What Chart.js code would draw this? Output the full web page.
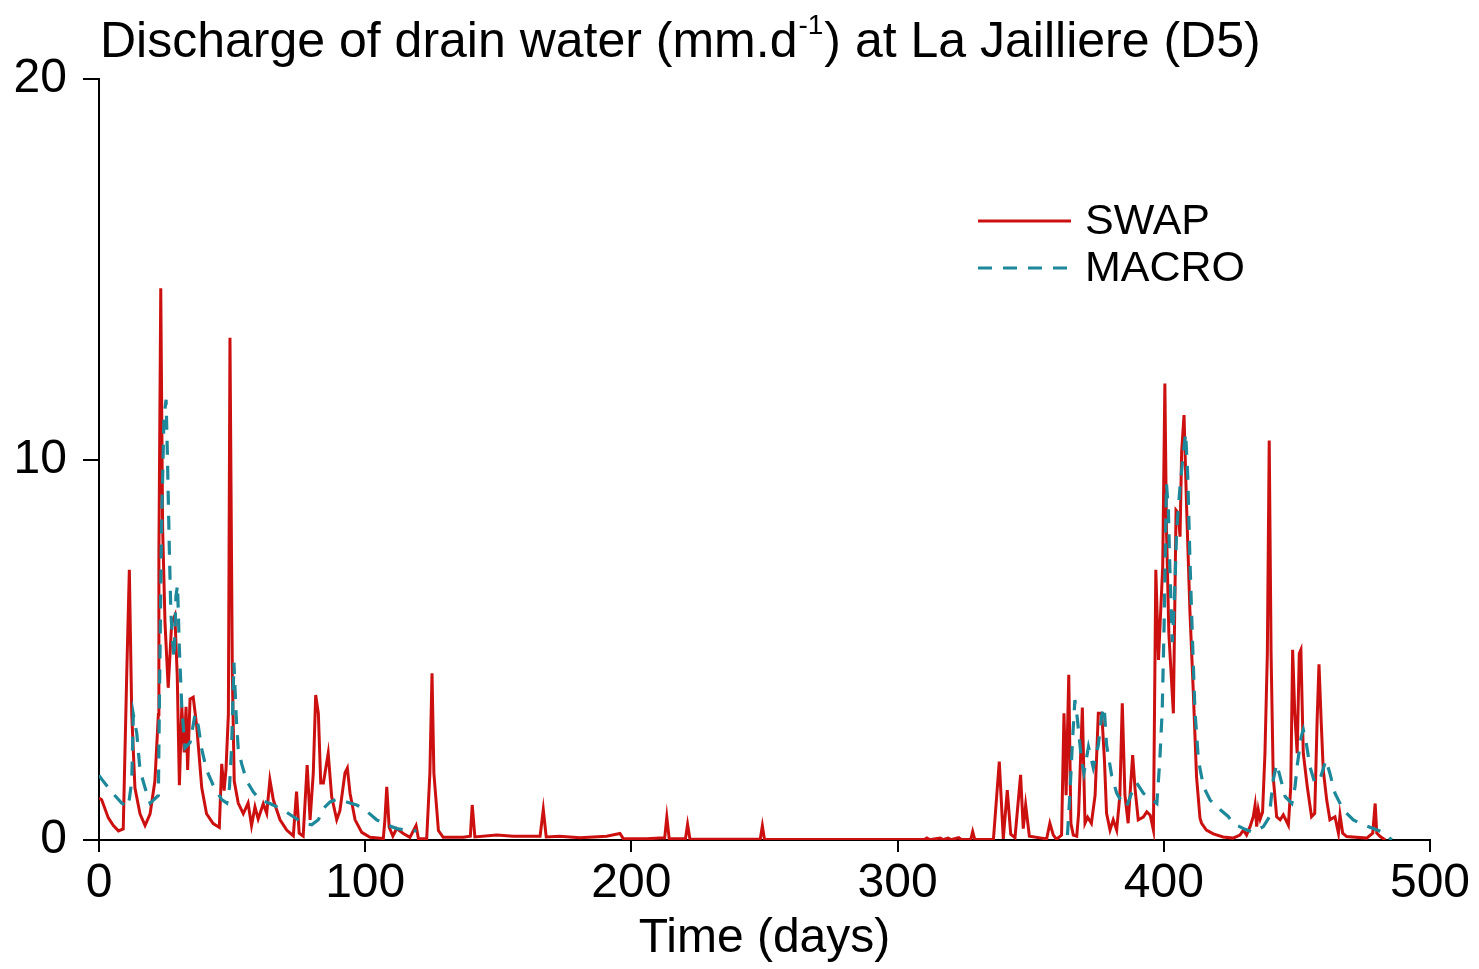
<!DOCTYPE html>
<html>
<head>
<meta charset="utf-8">
<script src="https://cdn.jsdelivr.net/npm/chart.js@4.4.1/dist/chart.umd.min.js"></script>
<style>
html,body{margin:0;padding:0;background:#fff;}
#wrap{width:1479px;height:969px;position:relative;}
</style>
</head>
<body>
<div id="wrap"><canvas id="c" width="1479" height="969"></canvas></div>
<script>
// ---- text ----
const titleMain = "Discharge of drain water (mm.d";
const titleSup = "-1";
const titleEnd = ") at La Jailliere (D5)";
const xAxisTitle = "Time (days)";
const seriesNames = ["SWAP", "MACRO"];

// ---- ticks ----
const xTickValues = [0, 100, 200, 300, 400, 500];
const yTickValues = [0, 10, 20];

// ---- SWAP series (day, mm/d) ----
const swapDays = [
0,1,3.5,5.4,7.3,9.1,10.4,11.4,12.3,13.5,
15.4,17.3,19.2,21,22.3,22.5,23.2,23.9,24.8,26,
27.3,28.5,29.4,30.2,31.1,32,32.7,33.3,34.2,35.4,
36.7,38.6,40.4,42.9,45.2,46.1,47,47.7,48.6,49.2,
50.1,50.8,52.3,54.2,56,57.3,58.6,59.8,61.7,63,
64.2,65.5,68,70.5,73,74.2,75.2,76.7,78.2,79.3,
80.5,81.4,82.4,83.3,84.3,86.1,87.4,89.3,90.5,92.4,
93.3,94.3,96.2,98.7,101.8,106.8,107.4,108.1,109,110.4,
111.8,114.3,116.8,119.1,120,123.1,124.3,125.1,125.8,127.5,
129.3,136.8,139.5,140.2,141.2,149.4,155.6,165.7,166.9,168,
173,180.7,190.7,195.7,197,205.7,210.7,212.5,213.3,214.2,
220.3,221.1,222,230.7,248.4,249.2,250,310,311,312,
316,317,319,320,323,324,327.5,328.2,329,336,
338.2,339.7,341.2,342.5,344.1,346.2,347.2,348.1,349.5,356,
357.2,358.5,359.7,361.6,362.5,363.3,364.3,365.1,366,367.3,
368,369.4,370.4,371.4,372.8,374.2,375.4,376.7,377.7,378.5,
379.8,381,382.3,383.5,384.4,385.4,386.6,388.3,389.2,390.4,
392.3,393.6,394.9,396.1,397,398,399.6,400.4,401,401.9,
403.6,404.6,405.4,406.1,406.7,407.6,408.6,409.8,411.1,412.3,
413.6,414.2,416,418.6,422.3,426,428.6,429.9,431.1,432.4,
433.6,434.3,434.9,435.5,436.2,437.1,438,438.9,439.6,440.3,
441.1,442.4,443.7,444.9,446.8,447.7,448.4,449.2,450.1,450.9,
451.5,452.4,453.9,455.5,456.7,457.6,458.3,459.1,459.9,461.2,
462.4,464.3,465.6,466.2,467.2,468.7,476.2,478.5,479.4,480,
481.3,483.2
];
const swapValues = [
1.1,1.06,0.58,0.38,0.24,0.29,4.3,7.1,3.3,1.37,
0.69,0.38,0.69,1.55,3.3,7.5,14.5,8.2,5.7,4.0,
5.7,5.9,4.3,1.44,3.5,2.3,3.5,1.84,3.7,3.75,
3.0,1.37,0.69,0.43,0.33,2.0,1.3,1.84,3.3,13.2,
4.3,1.55,0.97,0.69,0.97,0.38,0.87,0.55,0.95,0.7,
1.58,1.05,0.53,0.26,0.11,1.27,0.18,0.1,1.97,0.53,
1.76,3.81,3.33,1.5,1.5,2.28,1.14,0.53,0.77,1.76,
1.89,1.23,0.53,0.2,0.07,0.04,0.53,1.4,0.34,0.1,
0.3,0.17,0.07,0.38,0.03,0.03,1.76,4.38,1.76,0.25,
0.07,0.07,0.1,0.92,0.08,0.13,0.1,0.1,0.8,0.08,
0.1,0.06,0.1,0.17,0.03,0.03,0.05,0.05,0.6,0.03,
0.03,0.41,0.02,0.02,0.02,0.37,0.01,0.01,0.05,0.01,
0.05,0.01,0.05,0.01,0.06,0.01,0.02,0.22,0.01,0.02,
2.06,0.03,1.31,0.15,0.06,1.71,0.3,0.92,0.1,0.03,
0.44,0.13,0.02,0.13,3.33,1.18,4.34,0.44,0.13,0.1,
0.7,3.48,0.44,0.6,0.44,1.18,3.33,3.33,2.1,0.7,
0.26,0.53,0.26,1.18,3.59,1.18,0.44,2.23,1.35,0.53,
0.6,0.74,0.65,0.26,7.1,4.73,7.2,12.0,8.2,5.43,
3.33,8.67,8.6,7.97,10.2,11.17,8.67,6.04,3.86,1.66,
0.57,0.44,0.26,0.16,0.08,0.05,0.13,0.26,0.13,0.35,
0.61,0.92,0.35,0.79,0.55,0.73,2.28,4.9,10.5,4.9,
1.66,0.61,0.53,0.66,0.39,1.4,5.0,3.33,2.28,4.9,
5.0,2.28,1.4,0.61,0.7,3.15,4.62,3.15,1.84,1.05,
0.53,0.61,0.18,0.66,0.18,0.09,0.05,0.18,0.96,0.18,
0.09,0.0
];

// ---- MACRO series (day, mm/d); null = no output ----
const macroDays = [
0,1,4.8,8.5,11,12.3,12.9,14.2,15.4,17.3,
19.2,22.3,22.8,23.5,24.4,25.2,25.7,26.4,27,27.6,
28.2,28.9,29.5,30.2,31.1,32.3,34.2,36.1,37.3,38.5,
40.4,42.9,46.1,48,49,49.8,50.7,51.5,52.3,53.6,
55.5,58,60.5,64.2,69.2,73,76.7,79.9,82.4,84.3,
86.8,89.3,93,96.8,100,104.3,108,111.8,115.5,119.3,
120,363,363.8,364.7,365.7,366.6,367.5,369.1,370,371.7,
373.5,375.4,376.7,377.6,378.5,380.4,382.3,384.2,386,387.9,
389.8,392.3,394.9,397.4,398.5,399.4,400.1,401,401.7,402.3,
403.2,404,404.8,406.1,407.4,408.2,409,409.8,410.8,411.7,
413,414.9,417.4,421.1,424.2,426,430.5,433.6,437.4,439.6,
441.1,442.4,443.7,445.6,448.1,449.3,450.2,451.6,452.4,453.4,
454.9,456.7,458.6,460.9,462.4,464.3,467.4,471.2,474.9,478.7,
482.4,484.3,485.6
];
const macroValues = [
1.7,1.6,1.26,0.97,0.87,1.55,3.3,2.8,1.84,1.37,
0.97,1.17,4.3,8.2,11.1,11.57,10.1,7.7,5.97,5.26,
4.77,6.4,6.7,5.0,3.5,2.42,2.56,3.3,3.0,2.42,
1.84,1.44,1.06,0.97,1.37,2.4,4.66,3.3,2.4,2.0,
1.55,1.26,1.06,0.96,0.79,0.61,0.44,0.4,0.53,0.83,
1.0,1.07,1.0,0.92,0.79,0.53,0.4,0.3,0.26,0.24,
null,null,0.13,1.18,2.6,3.68,3.2,2.1,1.76,2.45,
1.9,2.5,3.28,3.5,2.5,1.7,1.23,1.0,0.87,1.23,
1.5,1.23,1.1,0.96,2.1,3.4,5.6,9.37,8.7,7.1,
5.2,6.3,8.1,9.3,10.2,10.69,9.55,7.4,5.2,3.4,
2.1,1.4,1.05,0.8,0.62,0.44,0.28,0.2,0.35,0.6,
1.58,2.0,1.66,1.14,0.96,1.4,2.0,2.71,2.9,2.6,
1.93,1.5,1.58,2.1,1.75,1.23,0.79,0.53,0.4,0.3,
0.2,0.09,0
];

const FONT = "'Liberation Sans', Arial, Helvetica, sans-serif";
const SWAP_COLOR = '#cc1010';
const MACRO_COLOR = '#1d8899';
const MACRO_DASH = [14, 11];

const toPoints = (xs, ys) => xs.map((x, i) => ({ x: x, y: ys[i] }));

const titleLegendPlugin = {
  id: 'titleLegend',
  afterDraw(chart) {
    const ctx = chart.ctx;
    ctx.save();
    ctx.fillStyle = '#000';
    ctx.textBaseline = 'alphabetic';
    ctx.textAlign = 'left';
    // title with superscript
    let x = 100, y = 57;
    ctx.font = '50px ' + FONT;
    ctx.fillText(titleMain, x, y);
    x += ctx.measureText(titleMain).width + 1;
    ctx.font = '28px ' + FONT;
    ctx.fillText(titleSup, x, y - 23);
    x += ctx.measureText(titleSup).width + 1;
    ctx.font = '50px ' + FONT;
    ctx.fillText(titleEnd, x, y);

    // legend
    const items = [
      { name: seriesNames[0], color: SWAP_COLOR, dash: [], y: 221, w: 3 },
      { name: seriesNames[1], color: MACRO_COLOR, dash: MACRO_DASH, y: 268, w: 3.2 }
    ];
    items.forEach(it => {
      ctx.beginPath();
      ctx.setLineDash(it.dash);
      ctx.strokeStyle = it.color;
      ctx.lineWidth = it.w;
      ctx.moveTo(978, it.y);
      ctx.lineTo(1071, it.y);
      ctx.stroke();
      ctx.setLineDash([]);
      ctx.font = '43px ' + FONT;
      ctx.textBaseline = 'middle';
      ctx.fillStyle = '#000';
      ctx.fillText(it.name, 1085, it.y + 1);
    });
    ctx.restore();
  }
};

new Chart(document.getElementById('c'), {
  type: 'line',
  data: {
    datasets: [
      {
        label: seriesNames[1],
        data: toPoints(macroDays, macroValues),
        borderColor: MACRO_COLOR,
        borderWidth: 3.2,
        borderDash: MACRO_DASH,
        pointRadius: 0,
        tension: 0,
        fill: false,
        spanGaps: false
      },
      {
        label: seriesNames[0],
        data: toPoints(swapDays, swapValues),
        borderColor: SWAP_COLOR,
        borderWidth: 3,
        pointRadius: 0,
        tension: 0,
        fill: false
      }
    ]
  },
  options: {
    responsive: false,
    animation: false,
    devicePixelRatio: 1,
    layout: { padding: { top: 79, right: 49, left: 0, bottom: 0 } },
    plugins: {
      legend: { display: false },
      title: { display: false },
      tooltip: { enabled: false }
    },
    scales: {
      x: {
        type: 'linear',
        min: 0,
        max: 500,
        afterBuildTicks: s => { s.ticks = xTickValues.map(v => ({ value: v })); },
        afterFit: s => { s.height = 129; },
        ticks: {
          font: { family: FONT, size: 48 },
          color: '#000',
          padding: 3,
          maxRotation: 0,
          autoSkip: false
        },
        grid: {
          display: true,
          drawOnChartArea: false,
          drawTicks: true,
          tickLength: 12,
          color: '#000',
          lineWidth: 2
        },
        border: { display: true, color: '#000', width: 2 },
        title: {
          display: true,
          text: xAxisTitle,
          color: '#000',
          font: { family: FONT, size: 48 },
          padding: { top: 0, bottom: 1 }
        }
      },
      y: {
        type: 'linear',
        min: 0,
        max: 20,
        afterBuildTicks: s => { s.ticks = yTickValues.map(v => ({ value: v })); },
        afterFit: s => { s.width = 99; },
        ticks: {
          font: { family: FONT, size: 48 },
          color: '#000',
          padding: 16
        },
        grid: {
          display: true,
          drawOnChartArea: false,
          drawTicks: true,
          tickLength: 16,
          color: '#000',
          lineWidth: 2
        },
        border: { display: true, color: '#000', width: 2 }
      }
    }
  },
  plugins: [titleLegendPlugin]
});
</script>
</body>
</html>
